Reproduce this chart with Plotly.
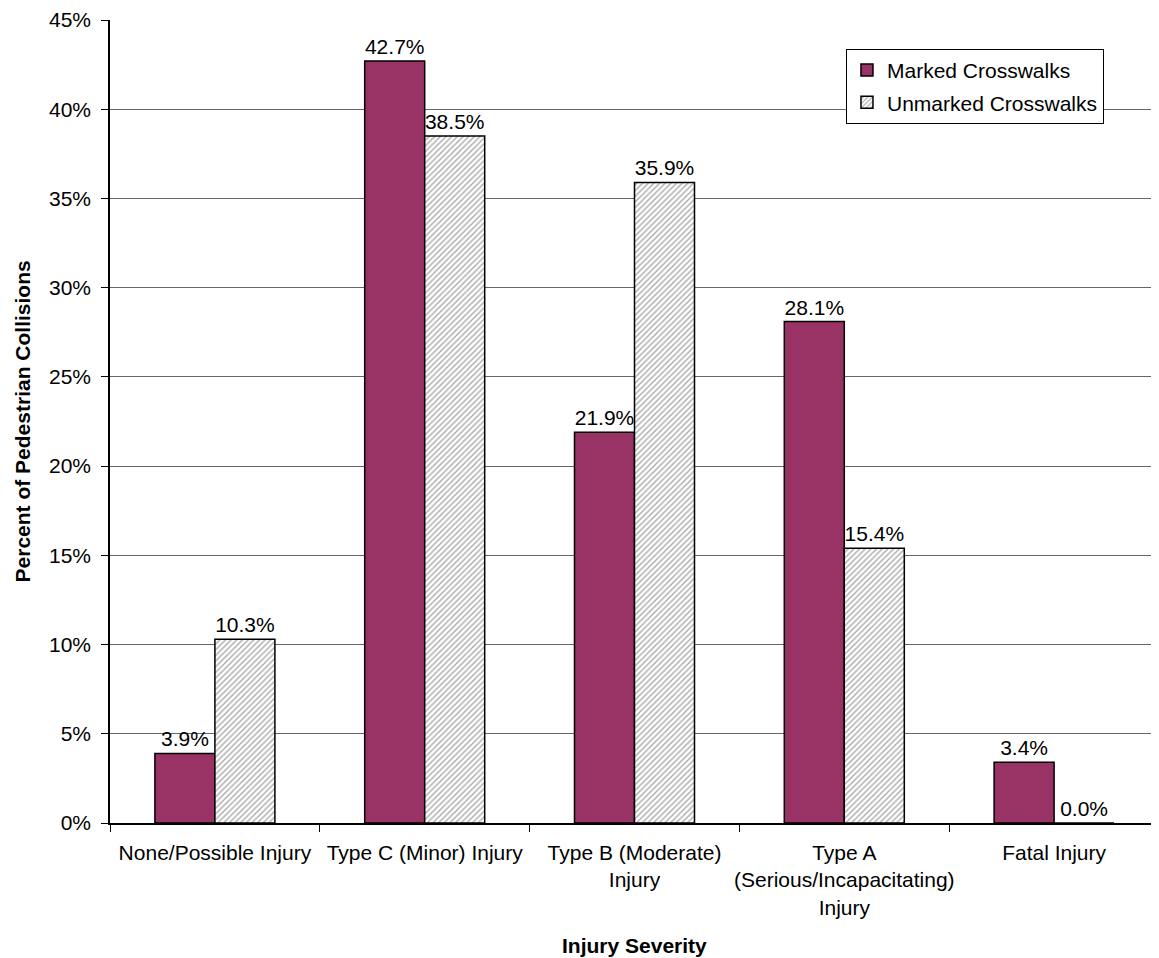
import plotly.graph_objects as go

categories = ["None/Possible Injury", "Type C (Minor) Injury", "Type B (Moderate)<br>Injury",
              "Type A<br>(Serious/Incapacitating)<br>Injury", "Fatal Injury"]
marked = [3.9, 42.7, 21.9, 28.1, 3.4]
unmarked = [10.3, 38.5, 35.9, 15.4, 0.0]
y_ticks = [0, 5, 10, 15, 20, 25, 30, 35, 40, 45]

FAM = "Liberation Sans, Arial, sans-serif"
font = dict(family=FAM, size=21, color="black")

fig = go.Figure()
fig.add_trace(go.Bar(
    x=categories, y=marked, name="Marked Crosswalks", legendgroup="m",
    marker=dict(color="#993366", line=dict(color="black", width=1.5)),
    text=[f"{v:.1f}%" for v in marked], textposition="outside", cliponaxis=False,
    textfont=font,
))
fig.add_trace(go.Bar(
    x=categories, y=unmarked, name="Unmarked Crosswalks", legendgroup="u",
    marker=dict(color="white", line=dict(color="black", width=1.5),
                pattern=dict(shape="/", fgcolor="#555555", bgcolor="white", size=4, solidity=0.35)),
    text=[f"{v:.1f}%" for v in unmarked], textposition="outside", cliponaxis=False,
    textfont=font,
))

fig.update_layout(
    width=1151, height=950,
    margin=dict(l=102, r=0, t=12, b=135, autoexpand=False),
    paper_bgcolor="white", plot_bgcolor="white",
    font=font,
    barmode="group", bargap=0.428, bargroupgap=0,
    showlegend=True,
    legend=dict(x=0.7016, y=0.964, xanchor="left", yanchor="top",
                bgcolor="white", bordercolor="black", borderwidth=1,
                traceorder="grouped", tracegroupgap=2,
                font=dict(family=FAM, size=21, color="black")),
    uniformtext=dict(mode=False),
    annotations=[
        dict(text="<b>Percent of Pedestrian Collisions</b>", xref="paper", yref="paper",
             x=-0.0830, y=0.5, xanchor="center", yanchor="middle", textangle=-90,
             showarrow=False, font=dict(family=FAM, size=21, color="black")),
        dict(text="<b>Injury Severity</b>", xref="paper", yref="paper",
             x=0.5, y=-0.153, xanchor="center", yanchor="middle",
             showarrow=False, font=dict(family=FAM, size=21, color="black")),
    ],
)
fig.update_xaxes(
    showline=True, linecolor="black", linewidth=1.5,
    ticks="outside", tickson="boundaries", ticklen=7, tickcolor="black",
    tickfont=font, tickangle=0, automargin=False, ticklabelstandoff=10,
)
fig.update_yaxes(
    range=[0, 45], tickvals=y_ticks, ticktext=[f"{v}%" for v in y_ticks],
    showline=True, linecolor="black", linewidth=1.5,
    ticks="outside", ticklen=7, tickcolor="black",
    showgrid=True, gridcolor="#666666", gridwidth=1,
    tickfont=font, zeroline=False, automargin=False,
    ticklabeloverflow="allow", ticklabelstandoff=6,
)

fig.write_html("out.html")
